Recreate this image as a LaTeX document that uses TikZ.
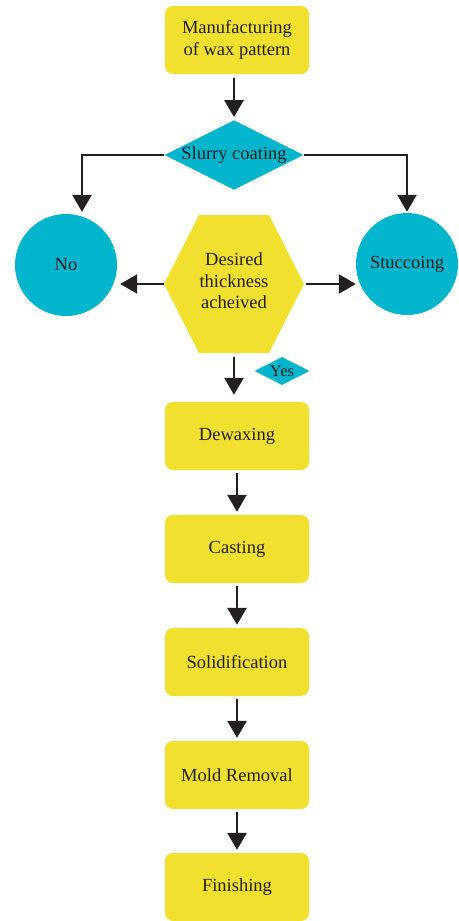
\documentclass[tikz,border=0pt]{standalone}
\usepackage{fontspec}
\setmainfont{Liberation Serif}
\usepackage{xcolor}
\usepackage{tikz}
\usetikzlibrary{shapes,arrows.meta,positioning,calc}
\definecolor{boxyellow}{RGB}{242,224,47}
\definecolor{boxcyan}{RGB}{0,181,204}
\definecolor{inkdark}{RGB}{35,31,32}

\begin{document}
\begin{tikzpicture}[x=1pt, y=-1pt,
    font=\fontsize{18.5}{21.5}\selectfont,
    stepbox/.style={fill=boxyellow, rounded corners=8pt, minimum width=144pt, minimum height=68pt, inner sep=0pt, text=inkdark, align=center},
    choice/.style={fill=boxcyan, diamond, aspect=2, inner sep=0pt, text=inkdark},
    endcircle/.style={fill=boxcyan, circle, minimum size=102pt, inner sep=0pt, text=inkdark},
    arr/.style={draw=inkdark, line width=2.8pt, -{Triangle[width=19pt,length=17pt]}}]
    \useasboundingbox (0,0) rectangle (458,921);

    % Start
    \node[stepbox] (wax) at (237,40) {Manufacturing\\of wax pattern};
    \node[choice, minimum width=138pt, minimum height=69pt] (slurry) at (234,155) {Slurry coating};

    % Outcomes
    \node[endcircle] (no) at (66,265) {No};
    \node[endcircle] (stuc) at (407,264) {Stuccoing};

    % Check
    \coordinate (hexW) at (164,284);
    \coordinate (hexE) at (304,284);
    \coordinate (hexS) at (234,353);
    \fill[boxyellow] (hexW) -- (199,215) -- (269,215) -- (hexE) -- (269,353) -- (199,353) -- cycle;
    \node[align=center, text=inkdark] (thick) at (234,281) {Desired\\thickness\\acheived};
    \node[choice, minimum width=55pt, minimum height=28pt, font=\fontsize{16.5}{18}\selectfont] (yes) at (282,371) {Yes};

    % Process steps
    \foreach \name/\txt/\y in {dewax/Dewaxing/436, cast/Casting/549, solid/Solidification/662, mold/Mold Removal/775, finish/Finishing/887}
        \node[stepbox] (\name) at (237,\y) {\txt};

    % Arrows
    \draw[arr, shorten <=4pt, shorten >=3pt] (wax.south -| slurry.north) -- (slurry.north);
    \draw[arr, shorten >=2pt] (slurry.west) -| ([xshift=16pt]no.north);
    \draw[arr, shorten >=1pt] (slurry.east) -| (stuc.north);
    \draw[arr, shorten >=3pt] (hexW) -- (hexW -| no.east);
    \draw[arr, shorten <=2pt] (hexE) -- (hexE -| stuc.west);
    \draw[arr, shorten <=4pt, shorten >=7pt] (hexS) -- (hexS |- dewax.north);
    \foreach \a/\b in {dewax/cast, cast/solid, solid/mold, mold/finish}
        \draw[arr, shorten <=3pt, shorten >=3pt] (\a) -- (\b);
\end{tikzpicture}
\end{document}
